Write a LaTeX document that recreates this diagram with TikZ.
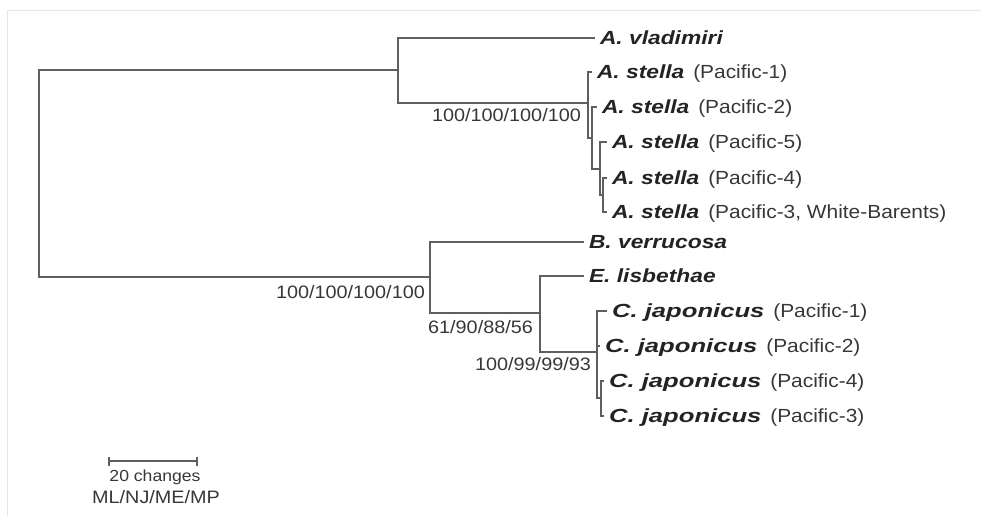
\documentclass[tikz,border=0pt]{standalone}
\usepackage{fontspec}
\setmainfont{Liberation Sans}
\newfontfamily\lsreg{Liberation Sans}[FakeStretch=1.1]
\newfontfamily\lsbi{Liberation Sans}[FakeStretch=1.2]
\newfontfamily\lsbj{Liberation Sans}[FakeStretch=1.35]
\definecolor{branch}{RGB}{95,95,95}
\definecolor{txt}{RGB}{55,55,55}
\definecolor{btxt}{RGB}{35,35,35}
\definecolor{frame}{RGB}{230,230,230}
\newcommand{\tax}[1]{{\lsbi\bfseries\itshape\color{btxt}#1}}
\newcommand{\taxj}[1]{{\lsbj\bfseries\itshape\color{btxt}#1}}
\begin{document}
\begin{tikzpicture}[x=1pt,y=-1pt,
  br/.style={draw=branch,line width=1.6pt},
  leaf/.style={anchor=west,inner ysep=0pt,inner xsep=0pt,outer xsep=5pt,text height=13.3pt,text depth=0pt,font=\lsreg\fontsize{19}{19}\selectfont,text=txt},
  supp/.style={anchor=east,inner sep=0pt,text height=13pt,text depth=0pt,font=\lsreg\fontsize{18}{18}\selectfont,text=txt},
  small/.style={inner sep=0pt,text height=12pt,text depth=0pt,text=txt}]
\useasboundingbox (0,0) rectangle (981,516);
\draw[frame,line width=1pt] (7,516) -- (7,11) -- (981,11);

% internal nodes
\coordinate (root) at (39,173);
\coordinate (n1) at (398,70);
\coordinate (sA) at (588,103);
\coordinate (sB) at (592,138);
\coordinate (sC) at (600,169);
\coordinate (sD) at (603,195);
\coordinate (n2) at (430,277);
\coordinate (n3) at (540,313);
\coordinate (cJ) at (597,352);
\coordinate (cK) at (601,398);

% leaves
\node[leaf] (vlad) at (595,38) {\tax{A. vladimiri}};
\node[leaf] (sP1) at (592,72) {\tax{A. stella}\hspace{3pt} (Pacific-1)};
\node[leaf] (sP2) at (597,107) {\tax{A. stella}\hspace{3pt} (Pacific-2)};
\node[leaf] (sP5) at (607,142) {\tax{A. stella}\hspace{3pt} (Pacific-5)};
\node[leaf] (sP4) at (607,178) {\tax{A. stella}\hspace{3pt} (Pacific-4)};
\node[leaf] (sP3) at (607,212) {\tax{A. stella}\hspace{3pt} (Pacific-3, White-Barents)};
\node[leaf] (bverr) at (584,242) {\tax{B. verrucosa}};
\node[leaf] (elis) at (584,276) {\tax{E. lisbethae}};
\node[leaf] (cP1) at (607,311) {\taxj{C. japonicus}\hspace{3pt} (Pacific-1)};
\node[leaf] (cP2) at (600,346) {\taxj{C. japonicus}\hspace{3pt} (Pacific-2)};
\node[leaf] (cP4) at (604,381) {\taxj{C. japonicus}\hspace{3pt} (Pacific-4)};
\node[leaf] (cP3) at (604,416) {\taxj{C. japonicus}\hspace{3pt} (Pacific-3)};

% branches
\draw[br] (root) |- (n1);
\draw[br] (root) |- (n2);
\draw[br] (n1) |- (vlad);
\draw[br] (n1) |- (sA);
\draw[br] (sA) |- (sP1);
\draw[br] (sA) |- (sB);
\draw[br] (sB) |- (sP2);
\draw[br] (sB) |- (sC);
\draw[br] (sC) |- (sP5);
\draw[br] (sC) |- (sD);
\draw[br] (sD) |- (sP4);
\draw[br] (sD) |- (sP3);
\draw[br] (n2) |- (bverr);
\draw[br] (n2) |- (n3);
\draw[br] (n3) |- (elis);
\draw[br] (n3) |- (cJ);
\draw[br] (cJ) |- (cP1);
\draw[br] (cJ) |- (cP2);
\draw[br] (cJ) |- (cK);
\draw[br] (cK) |- (cP4);
\draw[br] (cK) |- (cP3);

% support values
\node[supp] (s1) at (581,115) {100/100/100/100};
\node[supp] (s2) at (425,292) {100/100/100/100};
\node[supp] (s3) at (533,327) {61/90/88/56};
\node[supp] (s4) at (591,364) {100/99/99/93};

% scale bar
\coordinate (sb1) at (109,461);
\coordinate (sb2) at (197,461);
\draw[draw=branch,line width=1.2pt] (sb1) -- (sb2);
\draw[draw=branch,line width=1.2pt] ([yshift=-4.5pt]sb1) -- ([yshift=4.5pt]sb1);
\draw[draw=branch,line width=1.2pt] ([yshift=-4.5pt]sb2) -- ([yshift=4.5pt]sb2);
\node[small,font=\lsreg\fontsize{16}{16}\selectfont] (sbl) at (155,475) {20 changes};
\node[small,font=\lsreg\fontsize{18}{18}\selectfont] (meth) at (156,497) {ML/NJ/ME/MP};
\end{tikzpicture}
\end{document}
